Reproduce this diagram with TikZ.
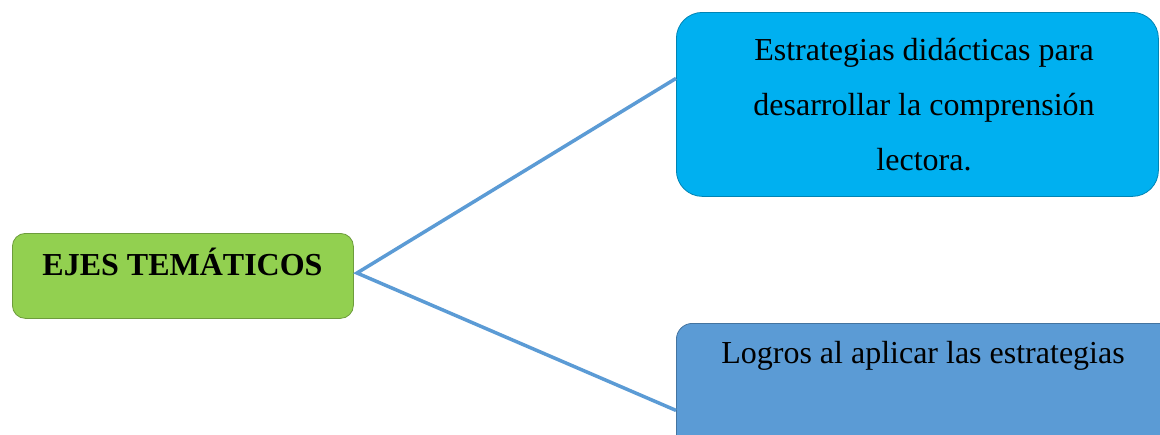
\documentclass[tikz,border=0pt]{standalone}
\usepackage{fontspec}
\setmainfont{Liberation Serif}
\definecolor{boxgreen}{HTML}{92D050}
\definecolor{boxcyan}{HTML}{00B0F0}
\definecolor{boxblue}{HTML}{5B9BD5}
\definecolor{linkblue}{HTML}{5B9BD5}
\begin{document}
\begin{tikzpicture}[x=1pt,y=-1pt,
  boxbase/.style={draw=#1!75!black, line width=0.8pt, fill=#1, inner sep=0pt, anchor=north west},
  txt/.style={font=\fontsize{32}{55}\selectfont, align=center, inner sep=0pt, anchor=base},
  link/.style={draw=linkblue, line width=3.5pt}]
\clip (0,0) rectangle (1160,434);
\fill[white] (0,0) rectangle (1160,434);
% boxes
\node[boxbase=boxgreen, rounded corners=13pt, minimum width=341pt, minimum height=85pt] (ejes) at (12,233) {};
\node[boxbase=boxcyan, rounded corners=26pt, minimum width=482pt, minimum height=184pt] (estr) at (676,12) {};
\node[boxbase=boxblue, rounded corners=16pt, minimum width=500pt, minimum height=140pt] (logr) at (676,323) {};
% texts
\node[txt, font=\fontsize{32}{55}\selectfont\bfseries] (tejes) at (182.5,275) {EJES TEMÁTICOS};
\node[txt] (testr) at (924,170) {Estrategias didácticas para\\desarrollar la comprensión\\lectora.};
\node[txt] (tlogr) at (923,363) {Logros al aplicar las estrategias};
% connectors
\coordinate (j) at (357,273);
\draw[link] ([yshift=26pt]estr.west) -- (j) -- ([yshift=-17pt]logr.west);
\end{tikzpicture}
\end{document}
